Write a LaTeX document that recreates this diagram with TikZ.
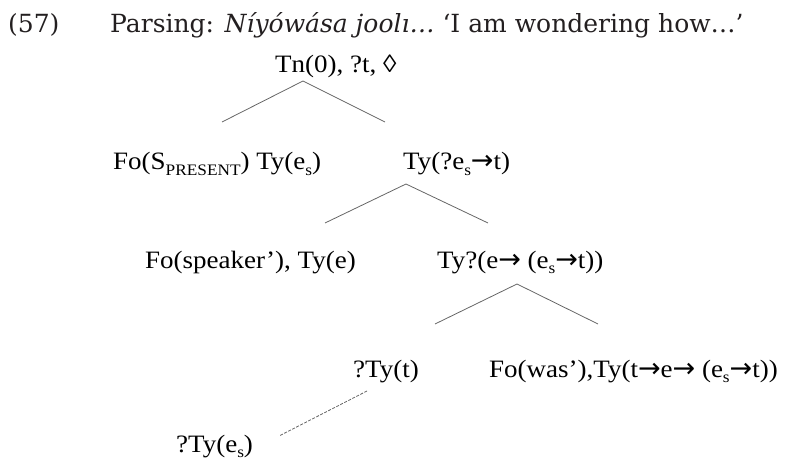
\documentclass[tikz,border=0pt]{standalone}
\usepackage{fontspec}
\setmainfont{Liberation Serif}[FakeStretch=1.08]
\newfontfamily\titlefont{DejaVu Serif}
\newfontfamily\arrowfont{DejaVu Sans}
\definecolor{titlegray}{HTML}{231F20}
\definecolor{linegray}{HTML}{666666}
\newcommand\lowsub[1]{\raisebox{-0.22em}{\fontsize{16}{16}\selectfont #1}}
\newcommand\arr{{\arrowfont\fontsize{27}{27}\selectfont →}}
\tikzset{
  tnode/.style={inner sep=0pt, anchor=base west, font=\fontsize{25}{29}\selectfont, text=black},
  titletext/.style={inner sep=0pt, anchor=base west, font=\titlefont\fontsize{25}{30}\selectfont, text=titlegray},
  branch/.style={draw=linegray, line width=0.8pt},
  dashbranch/.style={draw=linegray, line width=0.8pt, dash pattern=on 3pt off 1.5pt}
}
\begin{document}
\begin{tikzpicture}[x=1pt,y=-1pt]
\useasboundingbox (0,0) rectangle (786,465);
\clip (0,0) rectangle (786,465);
% title
\node[titletext] (num) at (8,33) {(57)};
\node[titletext] (title) at (110,33) {Parsing: \textit{Níyówása joolı…} ‘I am wondering how…’};
% tree nodes
\node[tnode] (tn) at (275,73) {Tn(0), ?t, ◊};
\node[tnode] (fos) at (113,170) {Fo(S\lowsub{PRESENT}) Ty(e\lowsub{s})};
\node[tnode] (tyq) at (403,170) {Ty(?e\lowsub{s}\arr t)};
\node[tnode] (fosp) at (145,268) {Fo(speaker’), Ty(e)};
\node[tnode] (tye) at (437,268) {Ty?(e\arr\ (e\lowsub{s}\arr t))};
\node[tnode] (qtyt) at (353,377) {?Ty(t)};
\node[tnode] (fowas) at (489,377) {Fo(was’),Ty(t\arr e\arr\ (e\lowsub{s}\arr t))};
\node[tnode] (qtyes) at (176,452) {?Ty(e\lowsub{s})};
% branch points
\coordinate (a0) at (303,81);
\coordinate (a0l) at (222,122);
\coordinate (a0r) at (385,122);
\coordinate (a1) at (406,184);
\coordinate (a1l) at (325,223);
\coordinate (a1r) at (488,223);
\coordinate (a2) at (517,284);
\coordinate (a2l) at (435,324);
\coordinate (a2r) at (598,324);
\coordinate (d0) at (367,391);
\coordinate (d1) at (279,436);
\draw[branch] (a0l) -- (a0) -- (a0r);
\draw[branch] (a1l) -- (a1) -- (a1r);
\draw[branch] (a2l) -- (a2) -- (a2r);
\draw[dashbranch] (d0) -- (d1);
\end{tikzpicture}
\end{document}
